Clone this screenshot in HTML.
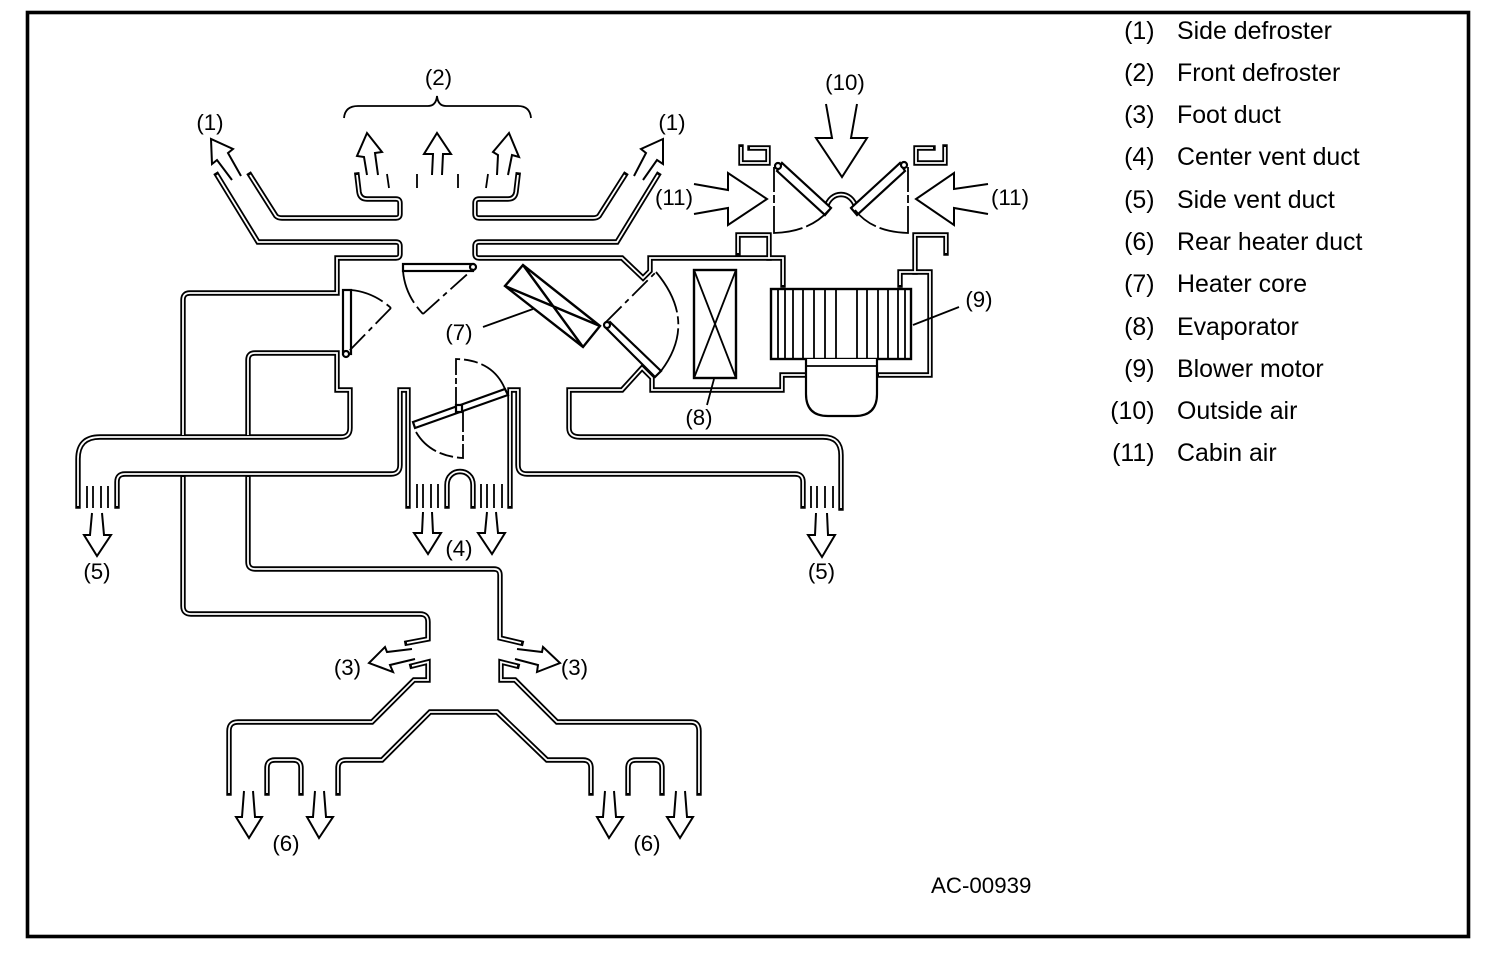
<!DOCTYPE html>
<html><head><meta charset="utf-8"><style>
html,body{margin:0;padding:0;background:#fff;width:1504px;height:954px;overflow:hidden}
svg{display:block}
text{font-family:"Liberation Sans",sans-serif;font-size:22.3px;fill:#000}
.l{font-size:24.9px}
.dk{fill:none;stroke:#000;stroke-width:5.4;stroke-linecap:square;stroke-linejoin:miter}
.wt{fill:none;stroke:#fff;stroke-width:1.8;stroke-linecap:butt;stroke-linejoin:miter}
.a{fill:none;stroke:#000;stroke-width:2;stroke-linejoin:miter}
.t{fill:none;stroke:#000;stroke-width:1.8}
.d{fill:none;stroke:#000;stroke-width:1.8;stroke-dasharray:22 5 5 5}
.c{fill:none;stroke:#000;stroke-width:1.8;stroke-dasharray:34 5}
.s{fill:#fff;stroke:#000;stroke-width:2.2}
.b{fill:none;stroke:#000;stroke-width:2.4}
</style></head><body>
<svg width="1504" height="954" viewBox="0 0 1504 954" xmlns="http://www.w3.org/2000/svg">
<rect width="1504" height="954" fill="#fff"/>
<rect x="27.5" y="12.5" width="1441" height="924" fill="none" stroke="#000" stroke-width="3.6"/>
<defs>
<g id="ducts">
<path d="M217,175 L258,242 L396,242 Q400,242 400,246 L400,254 Q400,258 396,258 L337,258 L337,293 L190,293 Q183,293 183,300 L183,435"/>
<path d="M183,477 L183,606 Q183,614 191,614 L420,614 Q428,614 428,622 L428,639 L407,643"/>
<path d="M250,175 L276,216 Q278,218 282,218 L396,218 Q400,218 400,214 L400,203 Q400,199 396,199 L367,199 Q360,199 359,192 L357,175"/>
<path d="M625,175 L599,216 Q597,218 593,218 L479,218 Q475,218 475,214 L475,203 Q475,199 479,199 L508,199 Q515,199 516,192 L518,175"/>
<path d="M658,175 L617,242 L479,242 Q475,242 475,246 L475,254 Q475,258 479,258 L622,258 L643,278 L650,271 L650,258 L783,258 L783,285"/>
<path d="M738,253 L738,235 L769,235 L769,258"/>
<path d="M841,508 L841,455 Q841,437 823,437 L580,437 Q569,437 569,428 L569,390 L622,390 L642,368 L652,378 L652,390 L782,390 L782,375 L805,375"/>
<path d="M879,375 L930,375 L930,272 L900,272 L900,285"/>
<path d="M915,272 L915,235 L946,235 L946,253"/>
<path d="M741,147 L741,163 L768,163 L768,148 L750,148"/>
<path d="M945,147 L945,163 L916,163 L916,148 L933,148"/>
<path d="M248,435 L248,360 Q248,353 255,353 L337,353 L337,390 L350,390 L350,428 Q350,437 341,437 L100,437 Q78,437 78,459 L78,506"/>
<path d="M248,477 L248,562 Q248,569 255,569 L494,569 Q500,569 500,575 L500,638 L521,643"/>
<path d="M117,506 L117,482 Q117,474 125,474 L391,474 Q400,474 400,465 L400,390 L408,390 L408,506"/>
<path d="M510,506 L510,390 L518,390 L518,465 Q518,474 527,474 L795,474 Q803,474 803,482 L803,506"/>
<path d="M447,506 L447,485 C447,467 473,467 473,485 L473,506"/>
<path d="M412,666 L428,662 L428,680 L414,680 L372,722 L238,722 Q229,722 229,731 L229,793"/>
<path d="M517,666 L501,662 L501,680 L515,680 L557,722 L691,722 Q699,722 699,731 L699,793"/>
<path d="M338,793 L338,768 Q338,760 346,760 L382,760 L430,712 L497,712 L547,760 L583,760 Q591,760 591,768 L591,793"/>
<path d="M267,793 L267,768 Q267,760 275,760 L293,760 Q301,760 301,768 L301,793"/>
<path d="M628,793 L628,768 Q628,760 636,760 L654,760 Q662,760 662,768 L662,793"/>
<path d="M826,208 C830,190 852,190 856,208"/>
</g>
</defs>
<use href="#ducts" class="dk"/>
<use href="#ducts" class="wt"/>

<!-- brace -->
<path class="t" d="M344,118 Q345,106 358,106 L428,106 Q436,106 437,96 Q438,106 446,106 L518,106 Q530,106 531,118"/>

<!-- top flap -->
<rect class="s" x="403" y="264" width="70" height="7"/>
<circle class="s" cx="473" cy="267" r="3"/>
<path class="c" d="M403,271 Q405,295 423,314"/>
<path class="d" d="M423,314 L473,269"/>
<!-- left flap -->
<rect class="s" x="343" y="290" width="8" height="64"/>
<circle class="s" cx="346" cy="354" r="3"/>
<path class="c" d="M351,290 Q373,292 391,308"/>
<path class="d" d="M391,308 L348,352"/>
<!-- heater core -->
<path class="b" d="M523,265 L505,286 L583,347 L600,326 Z M523,265 L583,347 M505,286 L600,326"/>
<path class="t" d="M483,327 L533,309"/>
<!-- right flap -->
<path class="s" d="M605,327 L655,377 L661,371 L610,322 Z"/>
<circle class="s" cx="607" cy="325" r="3"/>
<path class="d" d="M606,322 L656,272"/>
<path class="t" d="M656,272 Q698,322 661,371" stroke-dasharray="46 4 8 4 60"/>
<!-- evaporator -->
<rect class="b" x="694" y="270" width="42" height="108"/>
<path class="t" d="M694,270 L736,378 M736,270 L694,378 M714,379 L707,405"/>
<!-- blower -->
<rect class="b" x="771" y="289" width="140" height="70"/>
<path class="t" d="M778,289V359M785,289V359M793,289V359M803,289V359M814,289V359M825,289V359M836,289V359M857,289V359M867,289V359M878,289V359M888,289V359M898,289V359M905,289V359"/>
<path class="s" d="M806,359 L806,394 Q806,416 828,416 L855,416 Q877,416 877,394 L877,359"/>
<path class="t" d="M806,366 H877 M913,325 L959,307"/>
<!-- intake flaps -->
<path class="s" d="M777,171 L825,215 L831,208 L782,163 Z"/>
<circle class="s" cx="778" cy="166" r="3"/>
<path class="s" d="M905,171 L857,215 L851,208 L900,163 Z"/>
<circle class="s" cx="904" cy="165" r="3"/>
<path class="t" stroke-dasharray="25 3 8 3 56 4 30" d="M774,167 L774,233 Q810,232 829,210"/>
<path class="t" stroke-dasharray="25 3 8 3 56 4 30" d="M908,167 L908,233 Q872,232 855,210"/>
<!-- rotating flap -->
<path class="t" stroke-dasharray="22 3 6 3 20 4 14 4 60" d="M456,409 L456,359 Q493,360 505,389"/>
<path class="t" stroke-dasharray="22 3 6 3 20 4 14 4 60" d="M463,410 L463,458 Q430,456 416,432"/>
<path class="s" d="M413,422 L415,428 L508,395 L505,389 Z"/>
<rect class="s" x="456" y="405" width="6" height="7"/>

<!-- grilles -->
<path class="t" d="M87,486V508M93,486V508M101,486V508M108,486V508M417,484V508M423,484V508M431,484V508M438,484V508M481,484V508M487,484V508M494,484V508M502,484V508M811,486V508M817,486V508M825,486V508M833,486V508"/>
<!-- defroster ticks -->
<path class="t" d="M417,174V188M458,174V188M387,174L389,188M488,174L486,188"/>

<!-- arrows -->
<path class="a" d="M826,104 L832,138 L816,138 L842,177 L867,138 L851,138 L857,104"/>
<path class="a" d="M694,184 L728,190 L728,173 L767,199 L728,225 L728,208 L694,214"/>
<path class="a" d="M988,184 L954,189 L954,173 L916,199 L954,225 L954,208 L988,214"/>
<path class="a" d="M432,175 L433,154 L424,154 L437,133 L451,154 L443,154 L442,175"/>
<path class="a" d="M367,175 L364,157 L357,156 L367,133 L382,152 L375,153 L378,175"/>
<path class="a" d="M497,175 L498,155 L493,152 L509,133 L519,157 L512,155 L508,175"/>
<path class="a" d="M232,180 L217,160 L212,164 L211,139 L233,149 L228,153 L241,176"/>
<path class="a" d="M634,176 L646,153 L641,149 L663,139 L663,164 L657,160 L643,180"/>
<path class="a" d="M92,513 L90,535 L84,535 L97,556 L111,535 L104,535 L102,513"/>
<path class="a" d="M423,512 L422,533 L414,533 L428,554 L441,533 L433,533 L432,512"/>
<path class="a" d="M487,512 L485,533 L478,533 L492,554 L505,533 L498,533 L496,512"/>
<path class="a" d="M816,513 L815,535 L808,535 L822,557 L835,535 L828,535 L827,513"/>
<path class="a" d="M412,649 L387,652 L385,647 L369,663 L393,672 L390,665 L415,659"/>
<path class="a" d="M517,649 L542,652 L543,647 L560,663 L537,672 L538,665 L515,659"/>
<path class="a" d="M244,791 L242,817 L236,817 L249,838 L262,817 L255,817 L253,791"/>
<path class="a" d="M315,791 L313,817 L307,817 L319,838 L333,817 L326,817 L324,791"/>
<path class="a" d="M605,791 L603,817 L597,817 L609,838 L623,817 L616,817 L614,791"/>
<path class="a" d="M676,791 L674,817 L667,817 L680,838 L693,817 L687,817 L685,791"/>

<!-- callouts -->
<g text-anchor="middle">
<text x="438.5" y="85">(2)</text>
<text x="210" y="130">(1)</text>
<text x="672" y="130">(1)</text>
<text x="845" y="90">(10)</text>
<text x="674" y="205">(11)</text>
<text x="1010" y="205">(11)</text>
<text x="459" y="340">(7)</text>
<text x="979" y="307">(9)</text>
<text x="699" y="425">(8)</text>
<text x="97" y="579">(5)</text>
<text x="459" y="556">(4)</text>
<text x="821.5" y="579">(5)</text>
<text x="347.5" y="675">(3)</text>
<text x="574.5" y="675">(3)</text>
<text x="286" y="851">(6)</text>
<text x="647" y="851">(6)</text>
</g>
<text x="931" y="893">AC-00939</text>

<!-- legend -->
<g text-anchor="end">
<text class="l" x="1154.5" y="39">(1)</text>
<text class="l" x="1154.5" y="81">(2)</text>
<text class="l" x="1154.5" y="123">(3)</text>
<text class="l" x="1154.5" y="165">(4)</text>
<text class="l" x="1154.5" y="208">(5)</text>
<text class="l" x="1154.5" y="250">(6)</text>
<text class="l" x="1154.5" y="292">(7)</text>
<text class="l" x="1154.5" y="335">(8)</text>
<text class="l" x="1154.5" y="377">(9)</text>
<text class="l" x="1154.5" y="419">(10)</text>
<text class="l" x="1154.5" y="461">(11)</text>
</g>
<g>
<text class="l" x="1177" y="39">Side defroster</text>
<text class="l" x="1177" y="81">Front defroster</text>
<text class="l" x="1177" y="123">Foot duct</text>
<text class="l" x="1177" y="165">Center vent duct</text>
<text class="l" x="1177" y="208">Side vent duct</text>
<text class="l" x="1177" y="250">Rear heater duct</text>
<text class="l" x="1177" y="292">Heater core</text>
<text class="l" x="1177" y="335">Evaporator</text>
<text class="l" x="1177" y="377">Blower motor</text>
<text class="l" x="1177" y="419">Outside air</text>
<text class="l" x="1177" y="461">Cabin air</text>
</g>
</svg>
</body></html>
